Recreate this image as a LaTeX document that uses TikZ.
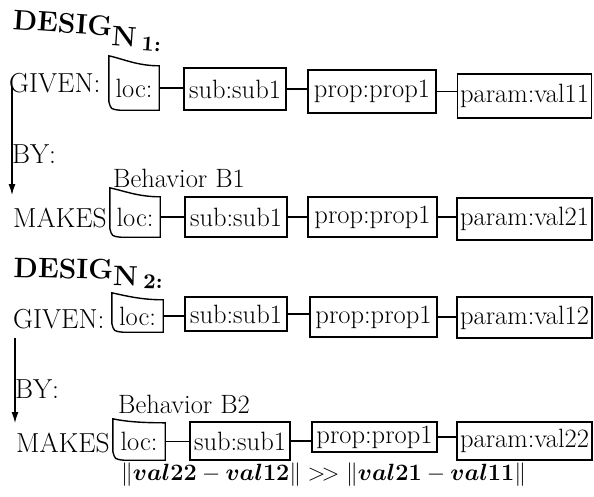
\RequirePackage{fix-cm}
\documentclass[tikz,border=0pt]{standalone}
\usetikzlibrary{arrows.meta,calc}
\tikzset{
  boxline/.style={line width=1.4pt, line join=miter},
  valbox/.style={draw, boxline, rectangle, inner sep=0pt, font=\fontsize{26.5}{30}\selectfont},
  locbox/.style={rectangle, inner sep=0pt, font=\fontsize{26.5}{30}\selectfont},
  lbl/.style={inner sep=0pt, anchor=base west, font=\fontsize{27.5}{32}\selectfont},
  beh/.style={inner sep=0pt, anchor=base west, font=\fontsize{26.5}{30}\selectfont},
  conn/.style={line width=1.4pt},
  flow/.style={line width=1.3pt, -{Latex[length=11pt,width=7pt]}},
  titlelbl/.style={inner sep=0pt, anchor=base west, scale=2.35, transform shape, font=\fontsize{12}{14}\selectfont\bfseries},
  formula/.style={inner sep=0pt, anchor=base west, font=\fontsize{23.5}{28}\selectfont},
}
\newcommand{\locoutline}[2]{%
  \draw[boxline] ([yshift=#2]#1.north west)
    .. controls ([xshift=14pt,yshift=#2-3pt]#1.north west) and ([xshift=-22pt]#1.north east) .. (#1.north east)
    -- (#1.south east) -- ([xshift=11pt]#1.south west)
    .. controls ([xshift=2pt,yshift=1pt]#1.south west) .. ([yshift=9pt]#1.south west) -- cycle;}
\newcommand{\bv}{\mbox{\boldmath$val$}}
\begin{document}
\begin{tikzpicture}[x=1pt,y=-1pt]
\useasboundingbox (0,0) rectangle (594,496);

% ---------- DESIGN 1 ----------
\node[titlelbl, rotate=-4] (d1) at (12,29) {DESIG\raisebox{-4pt}{N}\hspace{0.2em}\raisebox{-5.5pt}{\fontsize{9}{11}\selectfont 1:}};

\node[lbl] (g1) at (9,92) {GIVEN:};
\node[locbox, minimum width=50pt, minimum height=44pt] (l1) at (134,88) {loc:};
\locoutline{l1}{10pt}
\node[valbox, minimum width=102pt, minimum height=42pt] (s1) at (235,89) {sub:sub1};
\node[valbox, minimum width=128pt, minimum height=43pt] (p1) at (372,91.5) {prop:prop1};
\node[valbox, minimum width=134pt, minimum height=44pt] (q1) at (524.5,96) {param:val11};
\draw[conn] (l1.east) -- (l1.east -| s1.west);
\draw[conn] (s1.east) -- (s1.east -| p1.west);
\draw[conn] (p1.east) -- (p1.east -| q1.west);

\node[lbl] (b2) at (12,163) {BY:};
\node[beh] (bh1) at (113,187) {Behavior B1};

\node[lbl] (m2) at (13,227) {MAKES};
\node[locbox, minimum width=50pt, minimum height=40pt] (l2) at (135,217) {loc:};
\locoutline{l2}{9pt}
\node[valbox, minimum width=102pt, minimum height=40pt] (s2) at (236,217) {sub:sub1};
\node[valbox, minimum width=129pt, minimum height=40pt] (p2) at (372.5,217) {prop:prop1};
\node[valbox, minimum width=135pt, minimum height=42pt] (q2) at (524.5,219) {param:val21};
\draw[conn] (l2.east) -- (l2.east -| s2.west);
\draw[conn] (s2.east) -- (s2.east -| p2.west);
\draw[conn] (p2.east) -- (p2.east -| q2.west);

\draw[flow] ($(g1.base west)+(3,-6)$) -- ($(g1.base west |- m2.base west)+(3,-32)$);

% ---------- DESIGN 2 ----------
\node[titlelbl, rotate=-1.5] (d2) at (13,277) {DESIG\raisebox{-2.5pt}{N}\hspace{0.2em}\raisebox{-3.5pt}{\fontsize{9}{11}\selectfont 2:}};

\node[lbl] (g3) at (13,328) {GIVEN:};
\node[locbox, minimum width=51pt, minimum height=32pt] (l3) at (137.5,316) {loc:};
\locoutline{l3}{7pt}
\node[valbox, minimum width=102pt, minimum height=34pt] (s3) at (236,314) {sub:sub1};
\node[valbox, minimum width=127pt, minimum height=40pt] (p3) at (373.5,317) {prop:prop1};
\node[valbox, minimum width=135pt, minimum height=41pt] (q3) at (524.5,317.5) {param:val12};
\draw[conn] (l3.east) -- (l3.east -| s3.west);
\draw[conn] (s3.east) -- (s3.east -| p3.west);
\draw[conn] (p3.east) -- (p3.east -| q3.west);

\node[lbl] (b4) at (15,398) {BY:};
\node[beh] (bh2) at (118,413) {Behavior B2};

\node[lbl] (m4) at (16,452) {MAKES};
\node[locbox, minimum width=52pt, minimum height=37pt] (l4) at (139,441.5) {loc:};
\locoutline{l4}{4pt}
\node[valbox, minimum width=100pt, minimum height=38pt] (s4) at (240,441) {sub:sub1};
\node[valbox, minimum width=125pt, minimum height=30pt] (p4) at (374.5,437) {prop:prop1};
\node[valbox, minimum width=135pt, minimum height=38pt] (q4) at (524.5,441) {param:val22};
\draw[conn] (l4.east) -- (l4.east -| s4.west);
\draw[conn] (s4.east) -- (s4.east -| p4.west);
\draw[conn] (p4.east) -- (p4.east -| q4.west);

\draw[flow] ($(g3.base west)+(2,10)$) -- ($(g3.base west |- m4.base west)+(2,-29)$);

\node[formula] (f) at (121,480) {$\|\bv\mathbf{22} - \bv\mathbf{12}\| \mathrel{>\!>} \|\bv\mathbf{21} - \bv\mathbf{11}\|$};
\end{tikzpicture}
\end{document}
